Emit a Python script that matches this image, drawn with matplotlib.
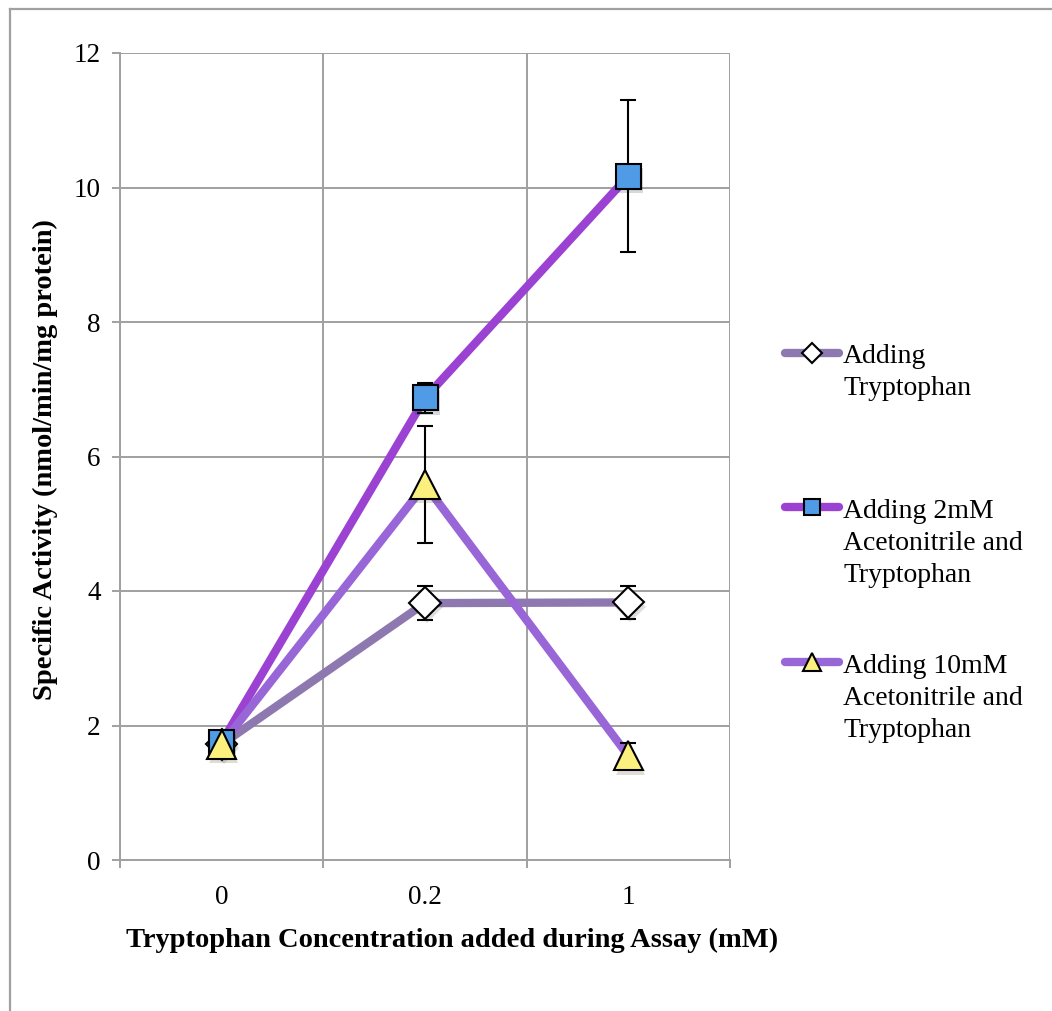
import matplotlib
matplotlib.use("Agg")
import matplotlib.pyplot as plt
from matplotlib.lines import Line2D
import matplotlib.patheffects as pe

plt.rcParams['font.family'] = ['Liberation Serif', 'DejaVu Serif']

# tryptophan concentration categories (mM)
categories = ['0', '0.2', '1']

labels = ['Adding\nTryptophan',
          'Adding 2mM\nAcetonitrile and\nTryptophan',
          'Adding 10mM\nAcetonitrile and\nTryptophan']

trp_only = [1.72, 3.82, 3.83]
trp_only_err = [0.0, 0.25, 0.25]

acn_2mm = [1.75, 6.87, 10.17]
acn_2mm_err = [0.0, 0.22, 1.13]

acn_10mm = [1.72, 5.58, 1.55]
acn_10mm_err = [0.0, 0.87, 0.19]

series = [
    (trp_only, trp_only_err, '#8e78b0', 'D', 'white', 16),
    (acn_2mm, acn_2mm_err, '#9b42d3', 's', '#4f9be6', 18),
    (acn_10mm, acn_10mm_err, '#9966d8', '^', '#fbf07e', 21),
]

fig = plt.figure(figsize=(10.52, 10.11), dpi=100)
ax = fig.add_axes([120/1052, 1 - 860/1011, 610/1052, 807/1011])

x = list(range(len(categories)))
shadow = [pe.SimplePatchShadow(offset=(1.5, -3), alpha=0.18), pe.Normal()]

for vals, err, lc, mk, fc, ms in series:
    ax.plot(x, vals, color=lc, lw=6, solid_capstyle='round', zorder=2)
for vals, err, lc, mk, fc, ms in series:
    ax.errorbar(x, vals, yerr=err, fmt='none', ecolor='black', elinewidth=1.5,
                capsize=6, capthick=1.5, zorder=3)
for i, (vals, err, lc, mk, fc, ms) in enumerate(series):
    ax.plot(x, vals, linestyle='none', marker=mk, ms=ms, mfc=fc, mec='black',
            mew=1.5, zorder=4 + i, path_effects=shadow)

ax.set_xlim(-0.5, 2.5)
ax.set_ylim(0, 12)
ax.set_yticks(range(0, 13, 2))
ax.set_xticks(x)
ax.set_xticklabels(categories)
ax.set_xticks([-0.5, 0.5, 1.5, 2.5], minor=True)

grid_c = '#a0a0a0'
ax.grid(axis='y', color=grid_c, lw=1.4)
ax.grid(axis='x', which='minor', color=grid_c, lw=1.4)
ax.set_axisbelow(True)
for s in ['top', 'right']:
    ax.spines[s].set_visible(False)
for s in ['left', 'bottom']:
    ax.spines[s].set_color(grid_c)
    ax.spines[s].set_linewidth(1.4)

ax.tick_params(axis='y', length=6, width=1.4, color=grid_c, pad=8, labelsize=19.5)
ax.tick_params(axis='x', which='major', length=0, pad=18, labelsize=19.5)
ax.tick_params(axis='x', which='minor', length=6, width=1.4, color=grid_c)

fig.text(452/1052, 1 - 940/1011, 'Tryptophan Concentration added during Assay (mM)',
         ha='center', va='center', fontsize=20.5, fontweight='bold')
fig.text(45/1052, 1 - 460/1011, 'Specific Activity (nmol/min/mg protein)',
         ha='center', va='center', rotation=90, fontsize=20.5, fontweight='bold')

# legend drawn by hand so the key sits beside the first text line
legend_key_y = [353, 507, 662]
legend_base_y = [363, 518, 673]
legend_ms = [10, 11.5, 13]
line_step = 32
for (vals, err, lc, mk, fc, ms), lab, ky, by, lms in zip(series, labels, legend_key_y,
                                                       legend_base_y, legend_ms):
    yk = 1 - ky/1011
    fig.add_artist(Line2D([785/1052, 839/1052], [yk, yk], color=lc, lw=6,
                          solid_capstyle='round'))
    fig.add_artist(Line2D([812/1052], [yk], marker=mk, ms=lms, mfc=fc,
                          mec='black', mew=1.5, linestyle='none'))
    for j, part in enumerate(lab.split('\n')):
        fig.text(843/1052, 1 - (by + j * line_step)/1011, part, ha='left',
                 va='baseline', fontsize=20)

# outer chart frame
frame_c = '#a0a0a0'
fig.add_artist(Line2D([10/1052, 10/1052], [0, 1 - 9/1011], color=frame_c, lw=1.6))
fig.add_artist(Line2D([10/1052, 1], [1 - 9/1011, 1 - 9/1011], color=frame_c, lw=1.6))

fig.savefig('out.png', dpi=100)
